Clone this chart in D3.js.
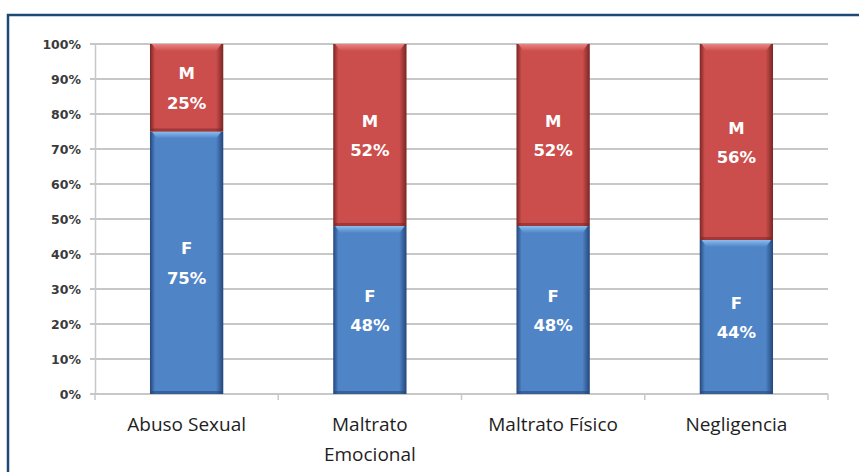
<!DOCTYPE html>
<html>
<head>
<meta charset="utf-8">
<script src="https://cdn.jsdelivr.net/npm/d3@7"></script>
<style>
  body { margin: 0; background: #fff; }
  svg { display: block; }
</style>
</head>
<body>
<div id="chart"></div>
<script>
// data
var categories = ["Abuso Sexual", "Maltrato\nEmocional", "Maltrato Físico", "Negligencia"];
var femenino = [75, 48, 48, 44];
var masculino = [25, 52, 52, 56];
var seriesKeys = ["F", "M"];
var yTicks = [0, 10, 20, 30, 40, 50, 60, 70, 80, 90, 100];

var W = 859, H = 472;
var margin = {top: 44, right: 31, bottom: 78, left: 95},
    width = W - margin.left - margin.right,
    height = H - margin.top - margin.bottom;

var colors = {
  F: {base: "#4f84c6", dark: "#24467a", light: "#8cbcef"},
  M: {base: "#cc4e4c", dark: "#7a2624", light: "#e98483"}
};

var rows = categories.map(function(c, i) {
  return {cat: c, F: femenino[i], M: masculino[i]};
});

var svg = d3.select("#chart").append("svg")
    .attr("width", W)
    .attr("height", H);

// frame
svg.append("rect")
    .attr("x", 8).attr("y", 15)
    .attr("width", 900).attr("height", 500)
    .attr("fill", "none")
    .attr("stroke", "#1c4a75")
    .attr("stroke-width", 2.5);

var defs = svg.append("defs");
seriesKeys.forEach(function(k) {
  var g = defs.append("linearGradient").attr("id", "side" + k)
      .attr("x1", 0).attr("x2", 1).attr("y1", 0).attr("y2", 0);
  g.append("stop").attr("offset", "0%").attr("stop-color", colors[k].dark);
  g.append("stop").attr("offset", "7%").attr("stop-color", colors[k].base);
  g.append("stop").attr("offset", "90%").attr("stop-color", colors[k].base);
  g.append("stop").attr("offset", "100%").attr("stop-color", colors[k].dark);
  var t = defs.append("linearGradient").attr("id", "top" + k)
      .attr("x1", 0).attr("x2", 0).attr("y1", 0).attr("y2", 1);
  t.append("stop").attr("offset", "0%").attr("stop-color", colors[k].light);
  t.append("stop").attr("offset", "100%").attr("stop-color", colors[k].base);
});

var g = svg.append("g").attr("transform", "translate(" + margin.left + "," + margin.top + ")");

var x = d3.scaleBand().domain(categories).range([0, width])
    .paddingInner(0.6).paddingOuter(0.3);
var y = d3.scaleLinear().domain([0, 100]).range([height, 0]);

// grid
g.selectAll(".grid").data(yTicks).enter().append("line")
    .attr("x1", -5).attr("x2", width)
    .attr("y1", function(d) { return y(d); })
    .attr("y2", function(d) { return y(d); })
    .attr("stroke", "#b5b5b5")
    .attr("stroke-width", 1.5);

// y axis
var yAxis = d3.axisLeft(y).tickValues(yTicks).tickSize(0).tickPadding(14)
    .tickFormat(function(d) { return d + "%"; });
var ya = g.append("g").call(yAxis);
ya.select(".domain").attr("stroke", "#c8c8c8").attr("stroke-width", 1.5);
ya.selectAll("text")
    .style("font-family", "DejaVu Sans")
    .style("font-weight", "bold")
    .style("font-size", "12.5px")
    .attr("fill", "#3a3a3a");

// x axis
var xa = g.append("g").attr("transform", "translate(0," + height + ")");
xa.append("line").attr("x1", 0).attr("x2", width)
    .attr("stroke", "#c8c8c8").attr("stroke-width", 1.5);
d3.range(categories.length + 1).forEach(function(i) {
  xa.append("line")
      .attr("x1", i * width / categories.length).attr("x2", i * width / categories.length)
      .attr("y1", 0).attr("y2", 6)
      .attr("stroke", "#c8c8c8").attr("stroke-width", 1.5);
});
xa.selectAll(".cat").data(categories).enter().append("text")
    .attr("x", function(d) { return x(d) + x.bandwidth() / 2; })
    .attr("y", 37)
    .attr("text-anchor", "middle")
    .style("font-family", "Open Sans")
    .style("font-size", "19px")
    .attr("fill", "#1e1e1e")
    .each(function(d) {
      var t = d3.select(this);
      d.split("\n").forEach(function(line, i) {
        t.append("tspan").attr("x", t.attr("x")).attr("dy", i ? 30 : 0).text(line);
      });
    });

// bars
var stacked = d3.stack().keys(seriesKeys)(rows);

var bw = x.bandwidth();
stacked.forEach(function(s) {
  var k = s.key;
  var seg = g.append("g").selectAll("g").data(s).enter().append("g");
  seg.append("rect")
      .attr("x", function(d) { return x(d.data.cat); })
      .attr("y", function(d) { return y(d[1]); })
      .attr("width", bw)
      .attr("height", function(d) { return y(d[0]) - y(d[1]); })
      .attr("fill", "url(#side" + k + ")");
  // top bevel highlight
  seg.append("path")
      .attr("d", function(d) {
        var x0 = x(d.data.cat), y0 = y(d[1]);
        return "M" + (x0 + 2) + "," + y0 + "L" + (x0 + bw - 2) + "," + y0 +
               "L" + (x0 + bw - 7) + "," + (y0 + 7) + "L" + (x0 + 7) + "," + (y0 + 7) + "Z";
      })
      .attr("fill", "url(#top" + k + ")");
  // bottom dark edge
  seg.append("rect")
      .attr("x", function(d) { return x(d.data.cat) + 1; })
      .attr("y", function(d) { return y(d[0]) - 3; })
      .attr("width", bw - 2)
      .attr("height", 3)
      .attr("fill", colors[k].dark)
      .attr("opacity", 0.55);
  // labels
  var lab = seg.append("text")
      .attr("text-anchor", "middle")
      .style("font-family", "DejaVu Sans")
      .style("font-weight", "bold")
      .style("font-size", "16.5px")
      .attr("fill", "#fff");
  lab.append("tspan")
      .attr("x", function(d) { return x(d.data.cat) + bw / 2; })
      .attr("y", function(d) { return (y(d[0]) + y(d[1])) / 2 - 8.5; })
      .text(k);
  lab.append("tspan")
      .attr("x", function(d) { return x(d.data.cat) + bw / 2; })
      .attr("y", function(d) { return (y(d[0]) + y(d[1])) / 2 + 21; })
      .text(function(d) { return d.data[k] + "%"; });
});
</script>
</body>
</html>
